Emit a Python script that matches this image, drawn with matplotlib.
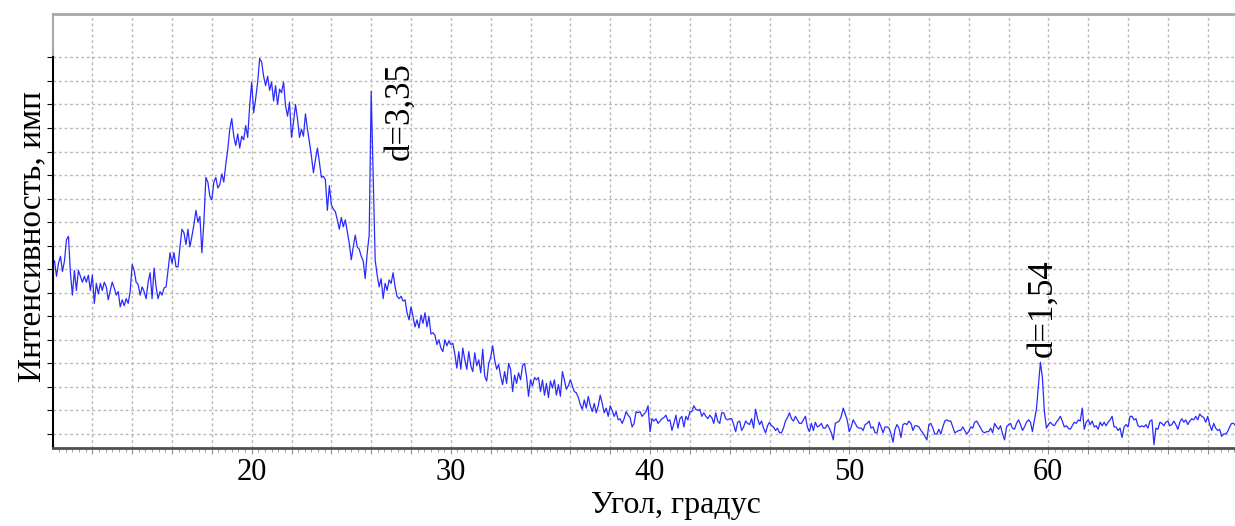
import numpy as np
import matplotlib.pyplot as plt
from matplotlib.ticker import MultipleLocator, FixedLocator, FuncFormatter

plt.rcParams['font.family'] = ['Liberation Serif', 'DejaVu Serif']

# diffractogram, 2-theta from 10.1 deg with 0.1 deg step
angle_start = 10.1
angle_step = 0.1
counts = [
    167, 154, 165, 171, 158, 167, 185, 188, 157,
    138, 159, 142, 159, 154, 149, 154, 149, 155, 142,
    155, 131, 148, 139, 148, 142, 149, 145, 134, 142,
    149, 144, 138, 141, 128, 134, 129, 135, 131, 141,
    164, 159, 149, 147, 138, 145, 141, 135, 149, 157,
    135, 161, 145, 135, 141, 138, 144, 145, 159, 174,
    165, 174, 162, 162, 179, 194, 191, 181, 194, 179,
    188, 198, 210, 200, 205, 174, 200, 238, 234, 222,
    219, 234, 238, 229, 232, 241, 234, 249, 262, 279,
    288, 273, 265, 275, 263, 273, 270, 282, 272, 299,
    319, 293, 305, 319, 339, 336, 324, 316, 324, 312,
    319, 303, 316, 300, 313, 310, 319, 299, 290, 302,
    272, 285, 300, 288, 272, 279, 273, 292, 279, 268,
    256, 242, 253, 263, 251, 238, 239, 236, 210, 231,
    215, 211, 209, 202, 194, 204, 196, 202, 192, 182,
    168, 179, 189, 179, 177, 171, 167, 152, 174, 189,
    311, 240, 168, 155, 145, 152, 135, 148, 142, 151,
    148, 157, 145, 137, 135, 137, 133, 134, 123, 117,
    128, 120, 111, 117, 110, 121, 114, 123, 111, 120,
    105, 106, 104, 96, 100, 93, 90, 100, 95, 99,
    96, 97, 88, 76, 90, 75, 93, 83, 75, 90,
    78, 73, 89, 78, 83, 72, 92, 69, 65, 80,
    85, 95, 83, 75, 79, 69, 62, 73, 63, 80,
    75, 56, 70, 63, 72, 66, 78, 80, 69, 52,
    66, 61, 68, 66, 68, 56, 66, 53, 63, 51,
    65, 59, 66, 53, 62, 52, 73, 66, 58, 61,
    66, 61, 56, 55, 51, 45, 41, 49, 42, 52,
    44, 39, 46, 38, 44, 53, 46, 38, 42, 35,
    44, 40, 35, 39, 32, 33, 29, 33, 39, 36,
    34, 26, 29, 39, 38, 39, 35, 37, 39, 44,
    22, 33, 31, 33, 29, 31, 33, 34, 36, 31,
    32, 23, 29, 36, 25, 33, 35, 26, 35, 32,
    39, 39, 44, 41, 40, 41, 35, 38, 35, 33,
    36, 34, 29, 38, 31, 29, 38, 38, 33, 32,
    33, 33, 28, 22, 30, 31, 23, 26, 31, 29,
    28, 33, 25, 41, 33, 28, 31, 25, 21, 27,
    30, 27, 26, 23, 25, 21, 21, 25, 31, 34,
    38, 33, 31, 35, 32, 29, 29, 32, 35, 26,
    22, 29, 23, 30, 26, 27, 29, 25, 25, 28,
    25, 21, 15, 29, 30, 31, 35, 42, 37, 32,
    22, 26, 32, 29, 26, 25, 25, 23, 28, 29,
    31, 25, 26, 21, 21, 30, 26, 21, 26, 26,
    25, 20, 13, 24, 28, 25, 17, 28, 29, 28,
    31, 29, 23, 27, 27, 26, 23, 21, 18, 15,
    28, 29, 25, 20, 20, 24, 20, 26, 31, 32,
    31, 31, 26, 21, 22, 23, 23, 26, 23, 20,
    22, 26, 25, 30, 31, 28, 25, 22, 21, 22,
    22, 25, 21, 29, 26, 24, 27, 20, 15, 26,
    28, 29, 25, 24, 29, 32, 28, 23, 26, 30,
    32, 30, 22, 32, 41, 61, 81, 68, 39, 25,
    28, 30, 28, 27, 30, 32, 35, 31, 26, 27,
    25, 24, 27, 30, 29, 32, 31, 42, 24, 30,
    32, 28, 31, 26, 27, 24, 30, 27, 30, 27,
    30, 32, 35, 26, 26, 23, 25, 17, 26, 28,
    26, 35, 35, 32, 33, 27, 26, 27, 26, 28,
    25, 31, 32, 11, 25, 24, 30, 29, 27, 30,
    31, 27, 28, 31, 28, 24, 30, 33, 30, 32,
    28, 31, 33, 32, 35, 32, 37, 35, 34, 30,
    35, 28, 23, 29, 25, 23, 24, 18, 20, 20,
    22, 26, 29, 29, 27,
]
peak_labels = ['d=3,35', 'd=1,54']
x_ticks_labeled = [20, 30, 40, 50, 60]

angle = angle_start + angle_step * np.arange(len(counts))

fig = plt.figure(figsize=(12.35, 5.26), dpi=100)
ax = fig.add_axes([53.3 / 1235, 77.7 / 526, 1181.7 / 1235, 434 / 526])

ax.plot(angle, counts, color='#2a2aff', lw=0.9)

x0, x1 = 10.04, 69.37
y0, y1 = 7.85, 376.6
ax.set_xlim(x0, x1)
ax.set_ylim(y0, y1)

# grid: every 2 degrees, horizontal lines only up to 340
ax.xaxis.set_major_locator(MultipleLocator(2))
ax.xaxis.set_minor_locator(MultipleLocator(1 / 3))
ax.xaxis.set_major_formatter(FuncFormatter(
    lambda v, p: f'{v:.0f}' if round(v) in x_ticks_labeled else ''))
ax.yaxis.set_major_locator(FixedLocator(np.arange(20, 341, 20)))
ax.yaxis.set_major_formatter(FuncFormatter(lambda v, p: ''))
ax.grid(True, which='major', color='#b8b8b8', lw=1.0, ls=(0, (2, 2)))

ax.tick_params(axis='x', which='major', direction='out', length=4,
               color='#909090', labelsize=22, pad=3)
ax.tick_params(axis='x', which='minor', direction='out', length=3,
               color='#909090')
ax.tick_params(axis='y', direction='out', length=4, color='black')

ax.spines['right'].set_visible(False)
ax.spines['top'].set_color('#a8a8a8')
ax.spines['top'].set_linewidth(2)
ax.spines['bottom'].set_color('#505050')
ax.spines['bottom'].set_linewidth(2)
ax.spines['left'].set_color('black')
ax.spines['left'].set_linewidth(1.5)
ax.spines['left'].set_bounds(y0, 340)
ax.plot([x0, x0], [340, y1], color='#a8a8a8', lw=1.5, clip_on=False)

ax.set_xlabel('Угол, градус', fontsize=23)
ax.xaxis.set_label_coords(0.527, -0.098)
ax.set_ylabel('Интенсивность, имп', fontsize=24)
ax.yaxis.set_label_coords(-0.005, 0.487)

ax.text(27.45, 253, peak_labels[0], rotation=90, ha='center', va='bottom',
        fontsize=25)
ax.text(59.74, 85, peak_labels[1], rotation=90, ha='center', va='bottom',
        fontsize=25)

fig.savefig('out.png', dpi=100)
